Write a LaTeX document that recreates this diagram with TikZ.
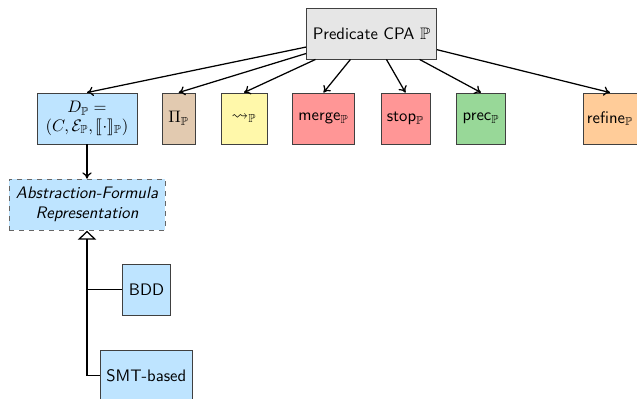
\documentclass[tikz,border=0pt]{standalone}
\usepackage{amssymb}
\usepackage{stmaryrd}
\usetikzlibrary{arrows.meta}

\definecolor{cpagray}{RGB}{230,230,230}
\definecolor{dpblue}{RGB}{190,228,255}
\definecolor{pitan}{RGB}{226,202,176}
\definecolor{transyellow}{RGB}{255,248,170}
\definecolor{opred}{RGB}{255,150,150}
\definecolor{precgreen}{RGB}{152,216,152}
\definecolor{reforange}{RGB}{255,204,153}

\tikzset{
  box/.style={draw=black!75, line width=0.55pt, minimum height=30.6pt,
    inner sep=1pt, font=\sffamily, align=center},
  conn/.style={line width=0.75pt, -{To[length=3.8pt,width=5.6pt]}},
}

\begin{document}
\begin{tikzpicture}[x=0.6pt, y=-0.6pt]
  \useasboundingbox (0,0) rectangle (637,399);

  % the CPA and its components
  \node[box, fill=cpagray, minimum width=78pt] (cpa) at (371.5,33.5) {Predicate CPA $\mathbb{P}$};

  \node[box, fill=dpblue, minimum width=60pt] (dom) at (87,118.5)
    {$D_{\mathbb{P}} =$\\[-1pt]$(C,\mathcal{E}_{\mathbb{P}},\llbracket\cdot\rrbracket_{\mathbb{P}})$};
  \node[box, fill=pitan, minimum width=19.8pt] (prec0) at (178.7,118.5) {$\Pi_{\mathbb{P}}$};
  \node[box, fill=transyellow, minimum width=27.6pt] (trans) at (244,118.5) {$\leadsto_{\mathbb{P}}$};
  \node[box, fill=opred, minimum width=37.2pt] (merge) at (323.5,118.5) {merge$_{\mathbb{P}}$};
  \node[box, fill=opred, minimum width=29.4pt] (stop) at (405.5,118.5) {stop$_{\mathbb{P}}$};
  \node[box, fill=precgreen, minimum width=29pt] (precop) at (481,118.5) {prec$_{\mathbb{P}}$};
  \node[box, fill=reforange, minimum width=32.4pt] (refine) at (610,118.5) {refine$_{\mathbb{P}}$};

  \foreach \n in {dom,prec0,trans,merge,stop,precop,refine}
    \draw[conn] (cpa) -- (\n.north);

  % abstraction-formula representations
  \node[box, fill=dpblue, draw=black!60, dashed, minimum width=93.6pt, font=\sffamily\itshape]
    (afr) at (87,204.7) {Abstraction-Formula\\Representation};
  \node[box, fill=dpblue, minimum width=28.6pt] (bdd) at (146.5,289.7) {BDD};
  \node[box, fill=dpblue, minimum width=55.6pt] (smt) at (146.3,375.5) {SMT-based};

  \draw[conn] (dom) -- (afr);
  \draw[line width=0.75pt, -{Triangle[open,length=5.4pt,width=11pt]}] (smt.west) -| (afr.south);
  \draw[line width=0.75pt] (bdd.west) -- (bdd.west -| afr.south);
\end{tikzpicture}
\end{document}
